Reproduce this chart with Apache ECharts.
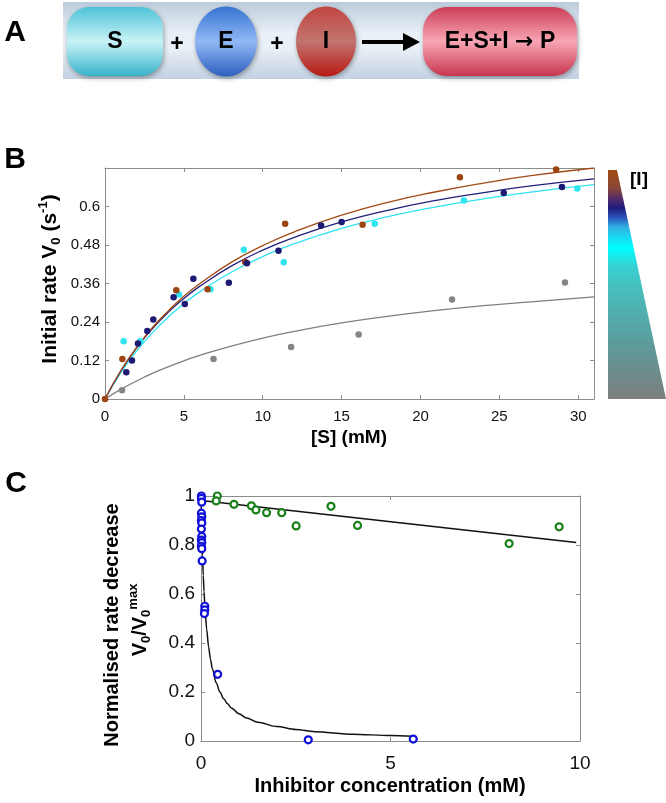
<!DOCTYPE html>
<html><head><meta charset="utf-8">
<script src="https://cdn.jsdelivr.net/npm/echarts@6/dist/echarts.min.js"></script>
<style>html,body{margin:0;padding:0;background:#fff}#c{width:666px;height:803px}</style>
</head><body><div id="c"></div>
<script>
// ---------- Panel B data ([S] mM vs V0 s^-1) ----------
const bXTicks = [0, 5, 10, 15, 20, 25, 30];
const bYTicks = [0, 0.12, 0.24, 0.36, 0.48, 0.6];
const fitX = [0, 1, 2, 3, 4, 5, 6, 8, 10, 12, 15, 18, 21, 24, 27, 31];
const fitBrown = [0, 0.088, 0.160, 0.222, 0.274, 0.320, 0.359, 0.426, 0.478, 0.521, 0.573, 0.614, 0.646, 0.673, 0.696, 0.720];
const fitNavy  = [0, 0.087, 0.159, 0.219, 0.270, 0.313, 0.351, 0.414, 0.464, 0.504, 0.552, 0.589, 0.619, 0.643, 0.664, 0.686];
const fitCyan  = [0, 0.082, 0.149, 0.206, 0.255, 0.297, 0.334, 0.395, 0.444, 0.484, 0.532, 0.569, 0.599, 0.624, 0.645, 0.668];
const fitGray  = [0, 0.030, 0.056, 0.080, 0.100, 0.119, 0.136, 0.165, 0.190, 0.211, 0.237, 0.258, 0.276, 0.291, 0.303, 0.318];
const ptsBrown = [[0,0],[1.1,0.125],[4.52,0.339],[6.5,0.342],[8.89,0.427],[11.42,0.546],[16.33,0.543],[22.5,0.691],[28.6,0.715]];
const ptsNavy  = [[1.35,0.083],[1.71,0.12],[2.09,0.173],[2.68,0.212],[3.06,0.248],[4.35,0.317],[5.06,0.296],[5.6,0.375],[7.85,0.362],[9.0,0.423],[11.0,0.462],[13.7,0.541],[15.0,0.552],[25.28,0.642],[28.97,0.661]];
const ptsCyan  = [[1.18,0.18],[2.24,0.18],[4.69,0.326],[6.69,0.342],[8.8,0.465],[11.33,0.426],[17.1,0.546],[22.75,0.619],[29.94,0.656]];
const ptsGray  = [[1.08,0.027],[6.88,0.125],[11.8,0.162],[16.08,0.201],[22.0,0.31],[29.16,0.363]];

// ---------- Panel C data (inhibitor mM vs V0/V0max) ----------
const cXTicks = [0, 5, 10];
const cYTicks = [0, 0.2, 0.4, 0.6, 0.8, 1];
const blueFitX = [0, 0.01, 0.02, 0.04, 0.06, 0.08, 0.1, 0.15, 0.2, 0.25, 0.3, 0.4, 0.5, 0.6, 0.7, 0.8, 1.0, 1.2, 1.5, 2, 2.5, 3, 4, 5, 5.6];
const blueFitY = [1.0, 0.926, 0.862, 0.758, 0.676, 0.610, 0.556, 0.455, 0.385, 0.333, 0.294, 0.238, 0.200, 0.172, 0.152, 0.135, 0.111, 0.094, 0.077, 0.059, 0.047, 0.038, 0.028, 0.022, 0.019];
const greenFitX = [0, 9.9];
const greenFitY = [0.982, 0.810];
const ptsBlue  = [[0.01,1.0],[0.01,0.99],[0.02,0.975],[0.01,0.93],[0.02,0.915],[0.01,0.90],[0.02,0.89],[0.01,0.865],[0.02,0.835],[0.01,0.82],[0.02,0.81],[0.01,0.795],[0.02,0.785],[0.03,0.735],[0.1,0.55],[0.1,0.535],[0.09,0.52],[0.44,0.272],[2.83,0.005],[5.6,0.008]];
const ptsGreen = [[0.43,1.0],[0.40,0.98],[0.87,0.966],[1.33,0.96],[1.45,0.943],[1.73,0.932],[2.13,0.932],[2.51,0.878],[3.43,0.958],[4.13,0.88],[8.13,0.806],[9.45,0.874]];

const FONT = "'Liberation Sans', Arial, Helvetica, sans-serif";
const zip = (xs, ys) => xs.map((x, i) => [x, ys[i]]);
const AX = '#8c8c8c';

function mkX(grid, pos, min, max, interval, ticks, fs, margin) {
  return {
    gridIndex: grid, type: 'value', position: pos, min: min, max: max, interval: interval,
    axisLine: { show: true, onZero: false, lineStyle: { color: AX, width: 1 } },
    axisTick: { show: true, inside: true, length: 4, lineStyle: { color: AX } },
    axisLabel: pos === 'bottom' ? { show: true, color: '#111', fontSize: fs, fontFamily: FONT, margin: margin,
      formatter: v => ticks.some(t => Math.abs(t - v) < 1e-6) ? String(+v.toFixed(2)) : '' } : { show: false },
    splitLine: { show: false }
  };
}
function mkY(grid, pos, min, max, interval, ticks, fs, margin) {
  return {
    gridIndex: grid, type: 'value', position: pos, min: min, max: max, interval: interval,
    axisLine: { show: true, onZero: false, lineStyle: { color: AX, width: 1 } },
    axisTick: { show: true, inside: true, length: 4, lineStyle: { color: AX } },
    axisLabel: pos === 'left' ? { show: true, color: '#111', fontSize: fs, fontFamily: FONT, margin: margin,
      formatter: v => ticks.some(t => Math.abs(t - v) < 1e-6) ? String(+v.toFixed(2)) : '' } : { show: false },
    splitLine: { show: false }
  };
}

const lineS = (data, color, xi, w, mono) => ({ type: 'line', xAxisIndex: xi, yAxisIndex: xi, data: data, showSymbol: false,
  smooth: mono ? 0.3 : true, smoothMonotone: mono ? 'x' : null, lineStyle: { color: color, width: w || 1.3 }, z: 2, silent: true });
const dotS = (data, color) => ({ type: 'scatter', xAxisIndex: 0, yAxisIndex: 0, data: data, symbol: 'circle', symbolSize: 6.5,
  itemStyle: { color: color, opacity: 1 }, z: 3 });
const ringS = (data, color) => ({ type: 'scatter', xAxisIndex: 2, yAxisIndex: 2, data: data, symbol: 'circle', symbolSize: 7,
  itemStyle: { color: '#ffffff', borderColor: color, borderWidth: 2.2, opacity: 1 }, z: 3 });

const grad = (stops) => new echarts.graphic.LinearGradient(0, 0, 0, 1, stops.map(s => ({ offset: s[0], color: s[1] })));
const shadow = { shadowBlur: 5, shadowOffsetX: 1, shadowOffsetY: 2, shadowColor: 'rgba(0,0,0,0.35)' };
const txt = (x, y, text, size, extra) => Object.assign({ type: 'text', x: x, y: y, z: 100,
  style: Object.assign({ text: text, fontSize: size, fontWeight: 'bold', fontFamily: FONT, fill: '#000', align: 'center', verticalAlign: 'middle' }, extra || {}) });
const subsup = { sub: { fontSize: 13, fontWeight: 'bold', fontFamily: FONT, verticalAlign: 'bottom', lineHeight: 14 },
                 sup: { fontSize: 13, fontWeight: 'bold', fontFamily: FONT, verticalAlign: 'top', lineHeight: 14 } };

const graphics = [
  // Panel A
  { type: 'rect', shape: { x: 63, y: 2, width: 516, height: 77 }, style: { fill: grad([[0, '#bccbdc'], [0.4, '#e9f0f7'], [0.6, '#e9f0f7'], [1, '#c3d1e1']]) }, z: 1 },
  { type: 'rect', shape: { x: 67, y: 7, width: 96, height: 69, r: 22 }, style: Object.assign({ fill: grad([[0, '#4ec3d6'], [0.5, '#c8f3f7'], [1, '#38b3cc']]) }, shadow), z: 2 },
  { type: 'ellipse', shape: { cx: 226, cy: 41.5, rx: 31, ry: 35 }, style: Object.assign({ fill: grad([[0, '#3474d0'], [0.5, '#92b7f6'], [1, '#2c5fc0']]) }, shadow), z: 2 },
  { type: 'ellipse', shape: { cx: 326, cy: 41.5, rx: 30, ry: 35 }, style: Object.assign({ fill: grad([[0, '#c2463e'], [0.5, '#c27470'], [1, '#b81912']]) }, shadow), z: 2 },
  { type: 'rect', shape: { x: 423, y: 7, width: 154, height: 69, r: 24 }, style: Object.assign({ fill: grad([[0, '#cc3e58'], [0.5, '#f8a6b4'], [1, '#c7364e']]) }, shadow), z: 2 },
  { type: 'line', shape: { x1: 362, y1: 42, x2: 408, y2: 42 }, style: { stroke: '#000', lineWidth: 4 }, z: 3 },
  { type: 'polygon', shape: { points: [[403, 33], [420, 42], [403, 51]] }, style: { fill: '#000' }, z: 3 },
  txt(115, 42, 'S', 23), txt(177, 45, '+', 23), txt(226, 42, 'E', 23), txt(277, 45, '+', 23), txt(326, 42, 'I', 23),
  txt(500, 42, 'E+S+I {ar|\u2192} P', 23, { rich: { ar: { fontSize: 22, fontWeight: 'bold', fontFamily: "'DejaVu Sans', sans-serif" } } }),
  txt(15, 33, 'A', 30), txt(15, 160, 'B', 30), txt(16, 484, 'C', 30),
  // Panel B titles
  Object.assign(txt(50, 279, 'Initial rate V{sub|0} (s{sup|-1})', 21, { lineHeight: 26, rich: subsup }), { rotation: Math.PI / 2 }),
  txt(349, 438, '[S] (mM)', 19),
  // colour bar
  { type: 'polygon', shape: { points: [[608, 170], [617, 170], [666, 399], [608, 399]] },
    style: { fill: grad([[0, '#a24c10'], [0.08, '#8a4538'], [0.13, '#4c2a6e'], [0.165, '#1e1a7a'], [0.21, '#2a58c0'], [0.25, '#2fb2e2'],
      [0.34, '#00ffff'], [0.42, '#36d2d2'], [0.5, '#46c0c0'], [0.75, '#5c9c9c'], [1, '#7e7e7e']]) }, z: 2 },
  txt(639, 180, '[I]', 19),
  // Panel C titles
  Object.assign(txt(112, 625, 'Normalised rate decrease', 20), { rotation: Math.PI / 2 }),
  Object.assign(txt(140, 620, 'V{sub|0}/V{sub|0}{sup|max}', 20, { lineHeight: 26, rich: subsup }), { rotation: Math.PI / 2 }),
  txt(390, 786, 'Inhibitor concentration (mM)', 20)
];

const option = {
  animation: false,
  backgroundColor: '#ffffff',
  grid: [
    { left: 105, top: 168, width: 489, height: 231, show: false },
    { left: 201, top: 496, width: 379, height: 245, show: false }
  ],
  xAxis: [
    mkX(0, 'bottom', 0, 31, 5, bXTicks, 15, 10),
    mkX(0, 'top', 0, 31, 5, bXTicks, 15, 10),
    mkX(1, 'bottom', 0, 10, 5, cXTicks, 19, 13),
    mkX(1, 'top', 0, 10, 5, cXTicks, 19, 13)
  ],
  yAxis: [
    mkY(0, 'left', 0, 0.72, 0.12, bYTicks, 15, 5),
    mkY(0, 'right', 0, 0.72, 0.12, bYTicks, 15, 5),
    mkY(1, 'left', 0, 1, 0.2, cYTicks, 19, 6),
    mkY(1, 'right', 0, 1, 0.2, cYTicks, 19, 6)
  ],
  series: [
    lineS(zip(fitX, fitGray), '#7f7f7f', 0),
    lineS(zip(fitX, fitCyan), '#2fe3ee', 0),
    lineS(zip(fitX, fitNavy), '#22207a', 0),
    lineS(zip(fitX, fitBrown), '#a14a14', 0),
    dotS(ptsGray, '#858585'),
    dotS(ptsCyan, '#2fe6f0'),
    dotS(ptsBrown, '#9c4512'),
    dotS(ptsNavy, '#1c1a74'),
    lineS(zip(blueFitX, blueFitY), '#111111', 2, 1.5, true),
    lineS(zip(greenFitX, greenFitY), '#111111', 2, 1.5, true),
    ringS(ptsGreen, '#1a801a'),
    ringS(ptsBlue, '#1010d8')
  ],
  graphic: graphics
};

const chart = echarts.init(document.getElementById('c'), null, { renderer: 'canvas' });
chart.setOption(option);
</script>
</body></html>
